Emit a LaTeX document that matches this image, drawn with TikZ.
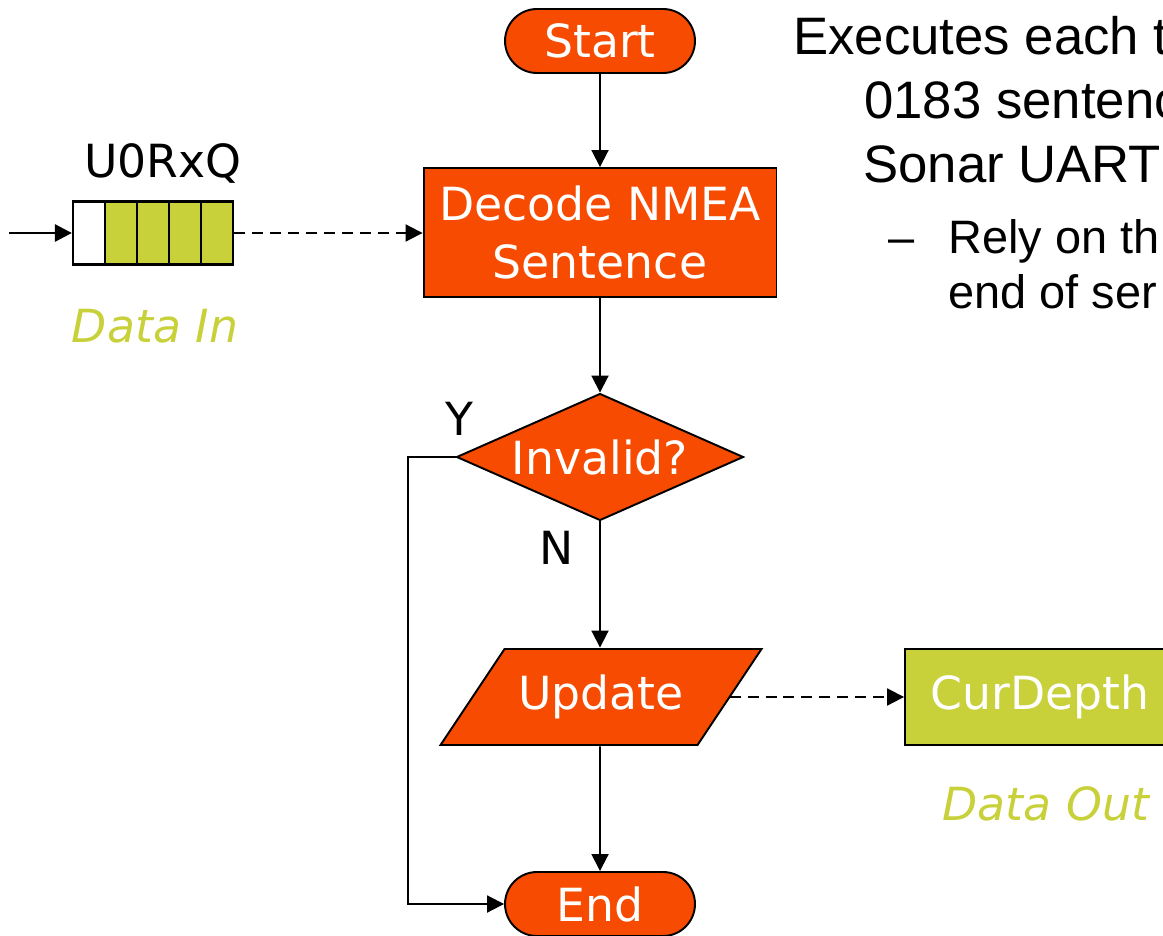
\documentclass[tikz,border=0pt]{standalone}
\usepackage{fontspec}
\setmainfont{DejaVu Sans}
\newfontfamily\slidefont{Liberation Sans}
\usetikzlibrary{shapes,arrows.meta,positioning,calc}
\definecolor{fcOrange}{RGB}{246,75,0}
\definecolor{fcGreen}{RGB}{200,208,58}
\tikzset{
    fcBoxBase/.style={
        draw=black,
        line width=1.1pt,
        text=white,
        align=center,
        inner sep=0pt,
        font=\fontsize{26}{33}\selectfont
    },
    % Flowchart shapes
    fcTerminal/.style={fcBoxBase, rounded rectangle, fill=fcOrange, minimum width=3.8cm, minimum height=1.28cm},
    fcProcess/.style={fcBoxBase, rectangle, fill=fcOrange, minimum width=7.06cm, minimum height=2.58cm},
    fcDecision/.style={fcBoxBase, diamond, aspect=2.26, fill=fcOrange, minimum width=5.74cm, minimum height=2.54cm},
    fcData/.style={fcBoxBase, draw=none, rectangle, minimum width=5.14cm, minimum height=1.94cm},
    fcVar/.style={fcBoxBase, rectangle, fill=fcGreen, minimum width=5.4cm, minimum height=1.92cm},
    fcCell/.style={draw=black, line width=1.3pt, minimum width=0.64cm, minimum height=1.26cm, inner sep=0pt},
    % Labels
    fcLabel/.style={inner sep=0pt, anchor=base, font=\fontsize{26}{33}\selectfont},
    fcNote/.style={fcLabel, text=fcGreen, font=\fontsize{26}{33}\selectfont\itshape},
    slideText/.style={inner sep=0pt, anchor=base west, font=\slidefont\fontsize{30}{36}\selectfont},
    slideSub/.style={inner sep=0pt, anchor=base west, font=\slidefont\fontsize{26.7}{32}\selectfont},
    % Arrows
    fcArrow/.style={-{Triangle[length=0.34cm, width=0.34cm]}, line width=1.1pt},
    fcFlow/.style={fcArrow, dash pattern=on 0.22cm off 0.14cm}
}

\begin{document}
\begin{tikzpicture}[x=0.02cm, y=-0.02cm]
\path[use as bounding box, clip] (0,0) rectangle (1163,936);

% main flow
\node[fcTerminal] (start) at (600,41) {Start};
\node[fcProcess] (dec) at (600,232.5) {Decode NMEA\\Sentence};
\node[fcDecision] (inv) at (600,457) {Invalid?};
% parallelogram for the data update
\coordinate (updc) at (601,697);
\draw[fill=fcOrange, line width=1.1pt] ($(updc)+(-96.5,-48)$) -- ($(updc)+(160.5,-48)$)
    -- ($(updc)+(96.5,48)$) -- ($(updc)+(-160.5,48)$) -- cycle;
\node[fcData] (upd) at (updc) {Update};
\coordinate (updE) at ($(updc)+(128.5,0)$);
\node[fcTerminal] (end) at (600,904) {End};

\draw[fcArrow] (start) -- (dec);
\draw[fcArrow] (dec) -- (inv);
\draw[fcArrow] (inv) -- (inv |- upd.north);
\draw[fcArrow] (inv |- upd.south) -- (end);
\draw[fcArrow] (inv.west) -- ++(-48,0) |- (end.west);
\node[fcLabel] (yes) at (459,435) {Y};
\node[fcLabel] (no) at (557,564) {N};

% receive queue
\foreach \i/\col in {0/white,1/fcGreen,2/fcGreen,3/fcGreen,4/fcGreen}
    \node[fcCell, fill=\col] (c\i) at (89+32*\i,233) {};
\coordinate (qin) at (9,233);
\draw[fcArrow, line width=1.6pt] (qin) -- (c0.west);
\draw[fcFlow] (c4.east) -- (c4.east -| dec.west);
\node[fcLabel] (qname) at (163,177) {U0RxQ};
\node[fcNote] (din) at (155,342) {Data In};

% output variable
\node[fcVar] (cur) at (1040,697) {CurDepth};
\draw[fcFlow] (updE) -- (cur.west);
\node[fcNote] (dout) at (1046,820) {Data Out};

% notes on the right
\node[slideText] (t1) at (793,55) {Executes each t};
\node[slideText] (t2) at (864,118) {0183 sentenc};
\node[slideText] (t3) at (863,182) {Sonar UART};
\node[slideSub] (t4) at (888,253) {–};
\node[slideSub] (t5) at (948,253) {Rely on th};
\node[slideSub] (t6) at (948,308) {end of ser};
\end{tikzpicture}
\end{document}
